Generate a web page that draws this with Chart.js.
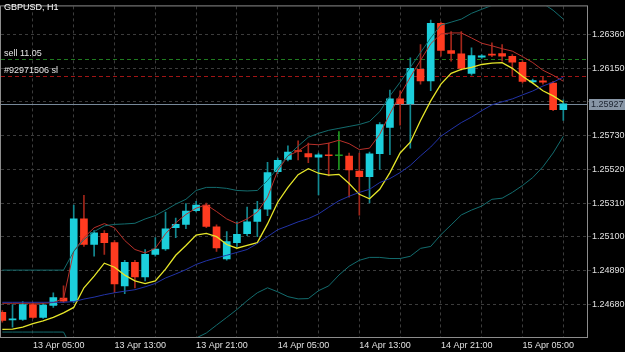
<!DOCTYPE html>
<html lang="en">
<head>
<meta charset="UTF-8">
<title>GBPUSD, H1</title>
<script src="https://cdn.jsdelivr.net/npm/chart.js"></script>
<style>
  html, body { margin: 0; padding: 0; background: #000; }
  canvas { display: block; }
</style>
</head>
<body>
<canvas id="myChart" width="625" height="352"></canvas>
<script>
// H1 bars, 13 Apr 02:00 .. 15 Apr 09:00
const times = [
  "13 Apr 02:00", "13 Apr 03:00", "13 Apr 04:00", "13 Apr 05:00", "13 Apr 06:00", "13 Apr 07:00",
  "13 Apr 08:00", "13 Apr 09:00", "13 Apr 10:00", "13 Apr 11:00", "13 Apr 12:00", "13 Apr 13:00",
  "13 Apr 14:00", "13 Apr 15:00", "13 Apr 16:00", "13 Apr 17:00", "13 Apr 18:00", "13 Apr 19:00",
  "13 Apr 20:00", "13 Apr 21:00", "13 Apr 22:00", "13 Apr 23:00",
  "14 Apr 00:00", "14 Apr 01:00", "14 Apr 02:00", "14 Apr 03:00", "14 Apr 04:00", "14 Apr 05:00",
  "14 Apr 06:00", "14 Apr 07:00", "14 Apr 08:00", "14 Apr 09:00", "14 Apr 10:00", "14 Apr 11:00",
  "14 Apr 12:00", "14 Apr 13:00", "14 Apr 14:00", "14 Apr 15:00", "14 Apr 16:00", "14 Apr 17:00",
  "14 Apr 18:00", "14 Apr 19:00", "14 Apr 20:00", "14 Apr 21:00", "14 Apr 22:00", "14 Apr 23:00",
  "15 Apr 00:00", "15 Apr 01:00", "15 Apr 02:00", "15 Apr 03:00", "15 Apr 04:00", "15 Apr 05:00",
  "15 Apr 06:00", "15 Apr 07:00", "15 Apr 08:00", "15 Apr 09:00"
];

const opens = [
  1.24631, 1.24585, 1.24588, 1.24680, 1.24600, 1.24674, 1.24720, 1.24701, 1.25212, 1.25053,
  1.25123, 1.25065, 1.24796, 1.24943, 1.24851, 1.24992, 1.25025, 1.25157, 1.25178, 1.25264,
  1.25298, 1.25163, 1.24964, 1.25065, 1.25120, 1.25197, 1.25273, 1.25506, 1.25582, 1.25634,
  1.25618, 1.25596, 1.25611, 1.25605, 1.25602, 1.25510, 1.25475, 1.25618, 1.25781, 1.25958,
  1.25928, 1.26142, 1.26070, 1.26427, 1.26258, 1.26238, 1.26117, 1.26217, 1.26236, 1.26240,
  1.26223, 1.26186, 1.26064, 1.26071, 1.26056, 1.25891
];
const highs = [
  1.24643, 1.24680, 1.24698, 1.24692, 1.24686, 1.24753, 1.24796, 1.25298, 1.25359, 1.25139,
  1.25139, 1.25078, 1.24955, 1.24955, 1.25022, 1.25096, 1.25255, 1.25218, 1.25307, 1.25322,
  1.25310, 1.25175, 1.25133, 1.25194, 1.25285, 1.25322, 1.25564, 1.25591, 1.25666, 1.25698,
  1.25683, 1.25622, 1.25683, 1.25755, 1.25622, 1.25622, 1.25628, 1.25811, 1.26013, 1.26009,
  1.26213, 1.26295, 1.26448, 1.26435, 1.26376, 1.26376, 1.26276, 1.26233, 1.26307, 1.26295,
  1.26233, 1.26197, 1.26081, 1.26099, 1.26068, 1.25952
];
const lows = [
  1.24570, 1.24539, 1.24582, 1.24594, 1.24594, 1.24662, 1.24692, 1.24692, 1.25041, 1.24980,
  1.24992, 1.24753, 1.24747, 1.24784, 1.24827, 1.24980, 1.25016, 1.25096, 1.25151, 1.25255,
  1.25157, 1.25010, 1.24955, 1.25041, 1.25108, 1.25102, 1.25233, 1.25493, 1.25573, 1.25579,
  1.25561, 1.25361, 1.25479, 1.25520, 1.25347, 1.25235, 1.25312, 1.25520, 1.25611, 1.25795,
  1.25652, 1.26050, 1.26009, 1.26223, 1.26192, 1.26136, 1.26105, 1.26209, 1.26221, 1.26192,
  1.26101, 1.26056, 1.26056, 1.26050, 1.25885, 1.25825
];
const closes = [
  1.24582, 1.24588, 1.24680, 1.24600, 1.24677, 1.24723, 1.24701, 1.25212, 1.25053, 1.25126,
  1.25065, 1.24808, 1.24943, 1.24851, 1.24992, 1.25025, 1.25151, 1.25178, 1.25261, 1.25298,
  1.25166, 1.25032, 1.25071, 1.25117, 1.25194, 1.25270, 1.25500, 1.25576, 1.25628, 1.25631,
  1.25597, 1.25610, 1.25605, 1.25605, 1.25516, 1.25475, 1.25616, 1.25799, 1.25958, 1.25928,
  1.26148, 1.26070, 1.26427, 1.26260, 1.26240, 1.26148, 1.26227, 1.26226, 1.26230, 1.26223,
  1.26186, 1.26066, 1.26072, 1.26062, 1.25891, 1.25927
];

// indicators
const maFast = [
  1.24688, 1.24688, 1.24688, 1.24688, 1.24688, 1.24692, 1.24717, 1.25010, 1.25096, 1.25157,
  1.25183, 1.25157, 1.25078, 1.25022, 1.25001, 1.25029, 1.25120, 1.25188, 1.25240, 1.25279,
  1.25300, 1.25258, 1.25212, 1.25183, 1.25212, 1.25255, 1.25347, 1.25512, 1.25604, 1.25634,
  1.25677, 1.25673, 1.25683, 1.25701, 1.25680, 1.25643, 1.25652, 1.25738, 1.25866, 1.25983,
  1.26093, 1.26197, 1.26301, 1.26362, 1.26368, 1.26368, 1.26337, 1.26304, 1.26288, 1.26270,
  1.26255, 1.26221, 1.26184, 1.26136, 1.26105, 1.26068
];
const maSlow = [
  1.24525, 1.24527, 1.24539, 1.24561, 1.24579, 1.24600, 1.24628, 1.24662, 1.24784, 1.24857,
  1.24937, 1.24912, 1.24863, 1.24827, 1.24810, 1.24827, 1.24900, 1.24986, 1.25047, 1.25112,
  1.25122, 1.25102, 1.25053, 1.25030, 1.25047, 1.25065, 1.25181, 1.25316, 1.25408, 1.25487,
  1.25524, 1.25496, 1.25484, 1.25489, 1.25432, 1.25365, 1.25337, 1.25396, 1.25500, 1.25622,
  1.25689, 1.25824, 1.25946, 1.26050, 1.26117, 1.26142, 1.26154, 1.26172, 1.26181, 1.26183,
  1.26148, 1.26099, 1.26056, 1.26009, 1.25977, 1.25937
];
const bbUpper = [
  1.24894, 1.24894, 1.24894, 1.24894, 1.24894, 1.24894, 1.24894, 1.25010, 1.25084, 1.25133,
  1.25169, 1.25178, 1.25181, 1.25185, 1.25212, 1.25233, 1.25267, 1.25304, 1.25334, 1.25389,
  1.25408, 1.25408, 1.25402, 1.25389, 1.25386, 1.25389, 1.25451, 1.25530, 1.25604, 1.25665,
  1.25720, 1.25744, 1.25763, 1.25775, 1.25787, 1.25799, 1.25818, 1.25879, 1.25977, 1.26062,
  1.26154, 1.26246, 1.26337, 1.26417, 1.26435, 1.26454, 1.26490, 1.26515, 1.26539, 1.26564,
  1.26576, 1.26576, 1.26570, 1.26551, 1.26509, 1.26454
];
const bbMiddle = [
  1.24694, 1.24694, 1.24694, 1.24694, 1.24694, 1.24694, 1.24694, 1.24698, 1.24714, 1.24726,
  1.24741, 1.24753, 1.24763, 1.24772, 1.24790, 1.24811, 1.24845, 1.24870, 1.24897, 1.24929,
  1.24952, 1.24970, 1.24986, 1.25004, 1.25022, 1.25059, 1.25102, 1.25145, 1.25169, 1.25194,
  1.25214, 1.25243, 1.25285, 1.25325, 1.25353, 1.25377, 1.25396, 1.25438, 1.25463, 1.25500,
  1.25545, 1.25604, 1.25659, 1.25726, 1.25769, 1.25811, 1.25845, 1.25885, 1.25921, 1.25940,
  1.25958, 1.25983, 1.26007, 1.26038, 1.26062, 1.26093
];
const bbLower = [
  1.24509, 1.24509, 1.24509, 1.24509, 1.24509, 1.24509, 1.24509, 1.24386, 1.24344, 1.24319,
  1.24313, 1.24328, 1.24345, 1.24359, 1.24368, 1.24389, 1.24423, 1.24436, 1.24460, 1.24472,
  1.24503, 1.24552, 1.24600, 1.24649, 1.24704, 1.24753, 1.24784, 1.24759, 1.24729, 1.24715,
  1.24717, 1.24766, 1.24796, 1.24863, 1.24918, 1.24955, 1.24973, 1.24973, 1.24966, 1.24966,
  1.24980, 1.25029, 1.25041, 1.25114, 1.25175, 1.25237, 1.25267, 1.25292, 1.25334, 1.25341,
  1.25377, 1.25420, 1.25469, 1.25536, 1.25622, 1.25726
];

const priceTicks = [1.24680, 1.24890, 1.25100, 1.25310, 1.25520, 1.25730, 1.25940, 1.26150, 1.26360];
const gridBars = [3, 7, 11, 15, 19, 23, 27, 31, 35, 39, 43, 47, 51, 55];
const labelBars = [3, 11, 19, 27, 35, 43, 51];

const bidPrice = 1.25927;
const sellPrice = 1.26209;
const slPrice = 1.26099;

const bull = "#1ccfdc", bear = "#ff3b20", doji = "#1f9a1f";
const bullWick = "#138a92", bearWick = "#a3261a";
const font = "Liberation Sans, Arial, sans-serif";

const idx = times.map((t, i) => i);
const kind = idx.map(i => closes[i] > opens[i] ? 1 : (closes[i] < opens[i] ? -1 : 0));
const bodyColors = kind.map(k => k > 0 ? bull : (k < 0 ? bear : doji));
const wickColors = kind.map(k => k > 0 ? bullWick : (k < 0 ? bearWick : doji));

function lineSet(label, arr, color, width) {
  return {
    type: "line", label, data: arr.map((v, i) => ({ x: i, y: v })),
    borderColor: color, borderWidth: width, pointRadius: 0, tension: 0,
    fill: false, clip: 0, order: 0
  };
}

const overlay = {
  id: "overlay",
  beforeDraw(chart) {
    const ctx = chart.ctx;
    ctx.save();
    ctx.fillStyle = "#000";
    ctx.fillRect(0, 0, chart.width, chart.height);
    ctx.restore();
  },
  beforeDatasetsDraw(chart) {
    const { ctx, chartArea: a, scales: { y } } = chart;
    ctx.save();
    ctx.lineWidth = 1;
    // order lines
    [[sellPrice, "#1f7a1f"], [slPrice, "#a01414"]].forEach(([p, c]) => {
      const py = Math.round(y.getPixelForValue(p)) + 0.5;
      ctx.strokeStyle = c;
      ctx.setLineDash([4, 3]);
      ctx.beginPath(); ctx.moveTo(a.left, py); ctx.lineTo(a.right, py); ctx.stroke();
    });
    // bid line
    const by = Math.round(y.getPixelForValue(bidPrice)) + 0.5;
    ctx.setLineDash([]);
    ctx.strokeStyle = "#778899";
    ctx.beginPath(); ctx.moveTo(a.left, by); ctx.lineTo(a.right, by); ctx.stroke();
    ctx.restore();
  },
  afterDraw(chart) {
    const { ctx, chartArea: a, scales: { y } } = chart;
    ctx.save();
    // frame
    ctx.strokeStyle = "#8c8c8c";
    ctx.lineWidth = 1;
    ctx.strokeRect(a.left - 0.5, a.top - 0.5, a.right - a.left, a.bottom - a.top);
    // texts
    ctx.fillStyle = "#ffffff";
    ctx.font = "9px " + font;
    ctx.textBaseline = "middle";
    ctx.fillText("GBPUSD, H1", 4, 8);
    ctx.fillStyle = "#e6e6e6";
    ctx.textBaseline = "bottom";
    ctx.fillText("sell 11.05", 4, Math.round(y.getPixelForValue(sellPrice)) - 0.5);
    ctx.fillText("#92971506 sl", 4, Math.round(y.getPixelForValue(slPrice)) - 1);
    // bid label
    const by = Math.round(y.getPixelForValue(bidPrice));
    ctx.fillStyle = "#8896a6";
    ctx.fillRect(a.right + 1, by - 5, chart.width - a.right - 1, 11);
    ctx.fillStyle = "#1c2430";
    ctx.textBaseline = "middle";
    ctx.fillText(bidPrice.toFixed(5), a.right + 3, by + 0.5);
    ctx.restore();
  }
};

new Chart(document.getElementById("myChart"), {
  type: "bar",
  data: {
    datasets: [
      lineSet("Upper band", bbUpper, "#136c6e", 1),
      lineSet("Lower band", bbLower, "#136c6e", 1),
      lineSet("Middle band", bbMiddle, "#2233a8", 1),
      lineSet("Slow MA", maSlow, "#e6e629", 1.3),
      lineSet("Fast MA", maFast, "#b8302a", 1),
      {
        type: "bar", label: "Body", order: 1, grouped: false,
        data: idx.map(i => ({ x: i, y: [opens[i], closes[i]] })),
        backgroundColor: bodyColors, barThickness: 7, minBarLength: 1, borderWidth: 0
      },
      {
        type: "bar", label: "Wick", order: 2, grouped: false,
        data: idx.map(i => ({ x: i, y: [lows[i], highs[i]] })),
        backgroundColor: wickColors, barThickness: 1, borderWidth: 0
      }
    ]
  },
  options: {
    responsive: false,
    animation: false,
    layout: { padding: { left: 1, top: 1, right: 0, bottom: 0 } },
    plugins: { legend: { display: false }, tooltip: { enabled: false } },
    scales: {
      x: {
        type: "linear", min: -0.13, max: 57.42, offset: false,
        afterBuildTicks: s => { s.ticks = gridBars.map(v => ({ value: v })); },
        afterFit: s => { s.height = 14; },
        ticks: {
          align: "start", maxRotation: 0, autoSkip: false, padding: 2,
          color: "#e0e0e0", font: { family: font, size: 9 },
          callback: v => labelBars.includes(v) ? times[v] : ""
        },
        grid: { color: "#3c3c3c", drawTicks: false, offset: false },
        border: { display: false, dash: [3, 3] }
      },
      y: {
        type: "linear", position: "right", min: 1.24472, max: 1.26533,
        afterBuildTicks: s => { s.ticks = priceTicks.map(v => ({ value: v })); },
        afterFit: s => { s.width = 37; },
        ticks: {
          padding: 1, color: "#e0e0e0", font: { family: font, size: 9 },
          callback: v => Math.abs(v - bidPrice) < 0.0002 ? "" : v.toFixed(5)
        },
        grid: { color: "#3c3c3c", tickColor: "#3c3c3c", tickLength: 3 },
        border: { display: false, dash: [3, 3] }
      }
    }
  },
  plugins: [overlay]
});
</script>
</body>
</html>
